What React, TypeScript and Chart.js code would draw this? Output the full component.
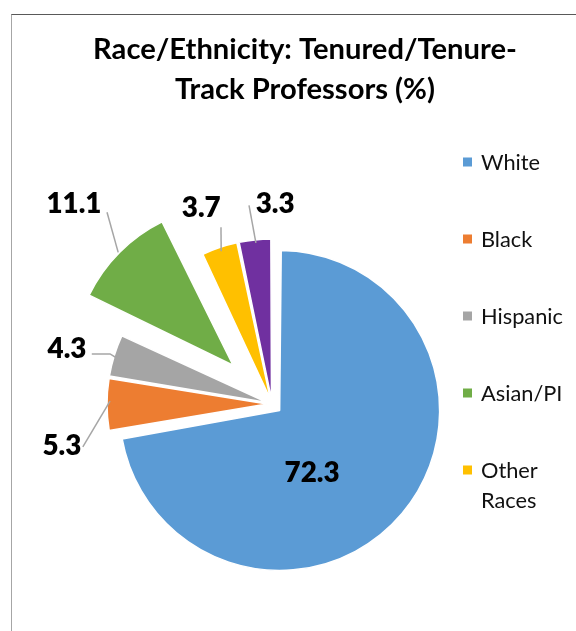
import React, { useEffect, useRef } from 'react';
import { Chart, registerables } from 'chart.js';

Chart.register(...registerables);

// ---------- data ----------
const categories = ['White', 'Black', 'Hispanic', 'Asian/PI', 'Other Races', 'Race Unknown'];
const percentages = [72.3, 5.3, 4.3, 11.1, 3.7, 3.3];
const sliceColors = ['#5B9BD5', '#ED7D31', '#A5A5A5', '#70AD47', '#FFC000', '#7030A0'];
const titleLines = ['Race/Ethnicity: Tenured/Tenure-', 'Track Professors (%)'];
const legendVisibleCount = 5;

// ---------- styling / placement ----------
const explodeOffsets = [40, 20, 20, 220, 20, 20]; // Chart.js arc offset (apex moves offset/4)
const pieRadius = 160;
// data-label placement: polar (deg clockwise from 12 o'clock, px) around the pie centre
const labelPlacement: { a: number; r: number; leader: number[][] | null }[] = [
  { a: 149.5, r: 79, leader: null },
  { a: 259, r: 214, leader: [[257.2, 194], [271, 162]] },
  { a: 285.3, r: 212.5, leader: [[285.5, 187], [287.2, 169.5], [286.5, 162]] },
  { a: 315.4, r: 282, leader: [[319.3, 253], [314.6, 216]] },
  { a: 340.2, r: 209, leader: [[343.9, 184], [341.6, 161]] },
  { a: 0.9, r: 201, leader: [[353.4, 200], [354.3, 162]] },
];

const FONT = 'Lato, Carlito, Calibri, "Open Sans", sans-serif';
const DEG = Math.PI / 180;

function polar(cx: number, cy: number, a: number, r: number): [number, number] {
  return [cx + r * Math.sin(a * DEG), cy - r * Math.cos(a * DEG)];
}

function fitSize(ctx: CanvasRenderingContext2D, text: string, weight: string, target: number) {
  ctx.font = `${weight} 100px ${FONT}`;
  const w = ctx.measureText(text).width;
  return (100 * target) / w;
}

function wrapWords(ctx: CanvasRenderingContext2D, text: string, maxW: number): string[] {
  const words = text.split(' ');
  const lines: string[] = [];
  let cur = '';
  words.forEach((w) => {
    const t = cur ? cur + ' ' + w : w;
    if (cur && ctx.measureText(t).width > maxW) {
      lines.push(cur);
      cur = w;
    } else cur = t;
  });
  if (cur) lines.push(cur);
  return lines;
}

const annotatePlugin = {
  id: 'annotate',
  afterDatasetsUpdate(chart: any) {
    const meta = chart.getDatasetMeta(0);
    meta.data.forEach((arc: any, i: number) => {
      const off = explodeOffsets[i] || 0;
      const fix = 1 - Math.sin(Math.min(Math.PI, arc.circumference || 0));
      arc.outerRadius = arc.outerRadius - (off / 4) * fix;
    });
  },
  afterDraw(chart: any) {
    const ctx: CanvasRenderingContext2D = chart.ctx;
    const meta = chart.getDatasetMeta(0);
    const cx = meta.data[0].x;
    const cy = meta.data[0].y;
    const values: number[] = chart.data.datasets[0].data;
    const colors: string[] = chart.data.datasets[0].backgroundColor;
    const labels: string[] = chart.data.labels;

    ctx.save();
    // title
    const ts = fitSize(ctx, titleLines[0], 'bold', 424);
    ctx.font = `bold ${ts}px ${FONT}`;
    ctx.fillStyle = '#000';
    ctx.textAlign = 'center';
    ctx.textBaseline = 'alphabetic';
    titleLines.forEach((t, k) => ctx.fillText(t, 305, 59 + k * 40));

    // leader lines
    ctx.strokeStyle = '#A6A6A6';
    ctx.lineWidth = 1.5;
    labelPlacement.forEach((p) => {
      if (!p.leader) return;
      ctx.beginPath();
      p.leader.forEach(([a, r], k) => {
        const [x, y] = polar(cx, cy, a, r);
        if (k === 0) ctx.moveTo(x, y);
        else ctx.lineTo(x, y);
      });
      ctx.stroke();
    });

    // data labels
    const ls = fitSize(ctx, '11.1', '800', 55);
    ctx.font = `800 ${ls}px ${FONT}`;
    ctx.fillStyle = '#000';
    ctx.textAlign = 'center';
    values.forEach((v, i) => {
      const p = labelPlacement[i];
      const [x, y] = polar(cx, cy, p.a, p.r);
      ctx.fillText(v.toFixed(1), x, y + ls * 0.36);
    });

    // legend
    const gs = fitSize(ctx, 'Hispanic', 'normal', 82);
    ctx.font = `normal ${gs}px ${FONT}`;
    ctx.textAlign = 'left';
    for (let i = 0; i < Math.min(legendVisibleCount, labels.length); i++) {
      const yc = 162 + i * 77;
      ctx.fillStyle = colors[i];
      ctx.fillRect(463, yc - 4.5, 9, 9);
      ctx.fillStyle = '#111';
      const lines = wrapWords(ctx, labels[i], 92);
      lines.forEach((ln, k) => ctx.fillText(ln, 481, yc + k * 30 + gs * 0.36));
    }
    ctx.restore();
  },
};

export default function App() {
  const ref = useRef<HTMLCanvasElement | null>(null);

  useEffect(() => {
    if (!ref.current) return;
    const chart = new Chart(ref.current, {
      type: 'pie',
      data: {
        labels: categories,
        datasets: [
          {
            data: percentages,
            backgroundColor: sliceColors,
            borderColor: '#FFFFFF',
            borderWidth: 1.5,
            offset: explodeOffsets,
            radius: pieRadius,
          } as any,
        ],
      },
      options: {
        responsive: false,
        animation: false,
        events: [],
        layout: { padding: { left: 0, right: 32, top: 177, bottom: 0 } },
        plugins: {
          legend: { display: false },
          title: { display: false },
          tooltip: { enabled: false },
        },
      },
      plugins: [annotatePlugin],
    });
    return () => chart.destroy();
  }, []);

  return (
    <div
      style={{
        position: 'fixed',
        left: 0,
        top: 0,
        width: 576,
        height: 631,
        overflow: 'hidden',
        background: '#fff',
      }}
    >
      <div
        style={{
          position: 'absolute',
          left: 11,
          top: 14,
          width: 700,
          height: 700,
          borderTop: '1px solid #595959',
          borderLeft: '1px solid #A6A6A6',
          boxSizing: 'border-box',
        }}
      />
      <canvas
        ref={ref}
        width={576}
        height={631}
        style={{ position: 'absolute', left: 0, top: 0, width: 576, height: 631 }}
      />
    </div>
  );
}
